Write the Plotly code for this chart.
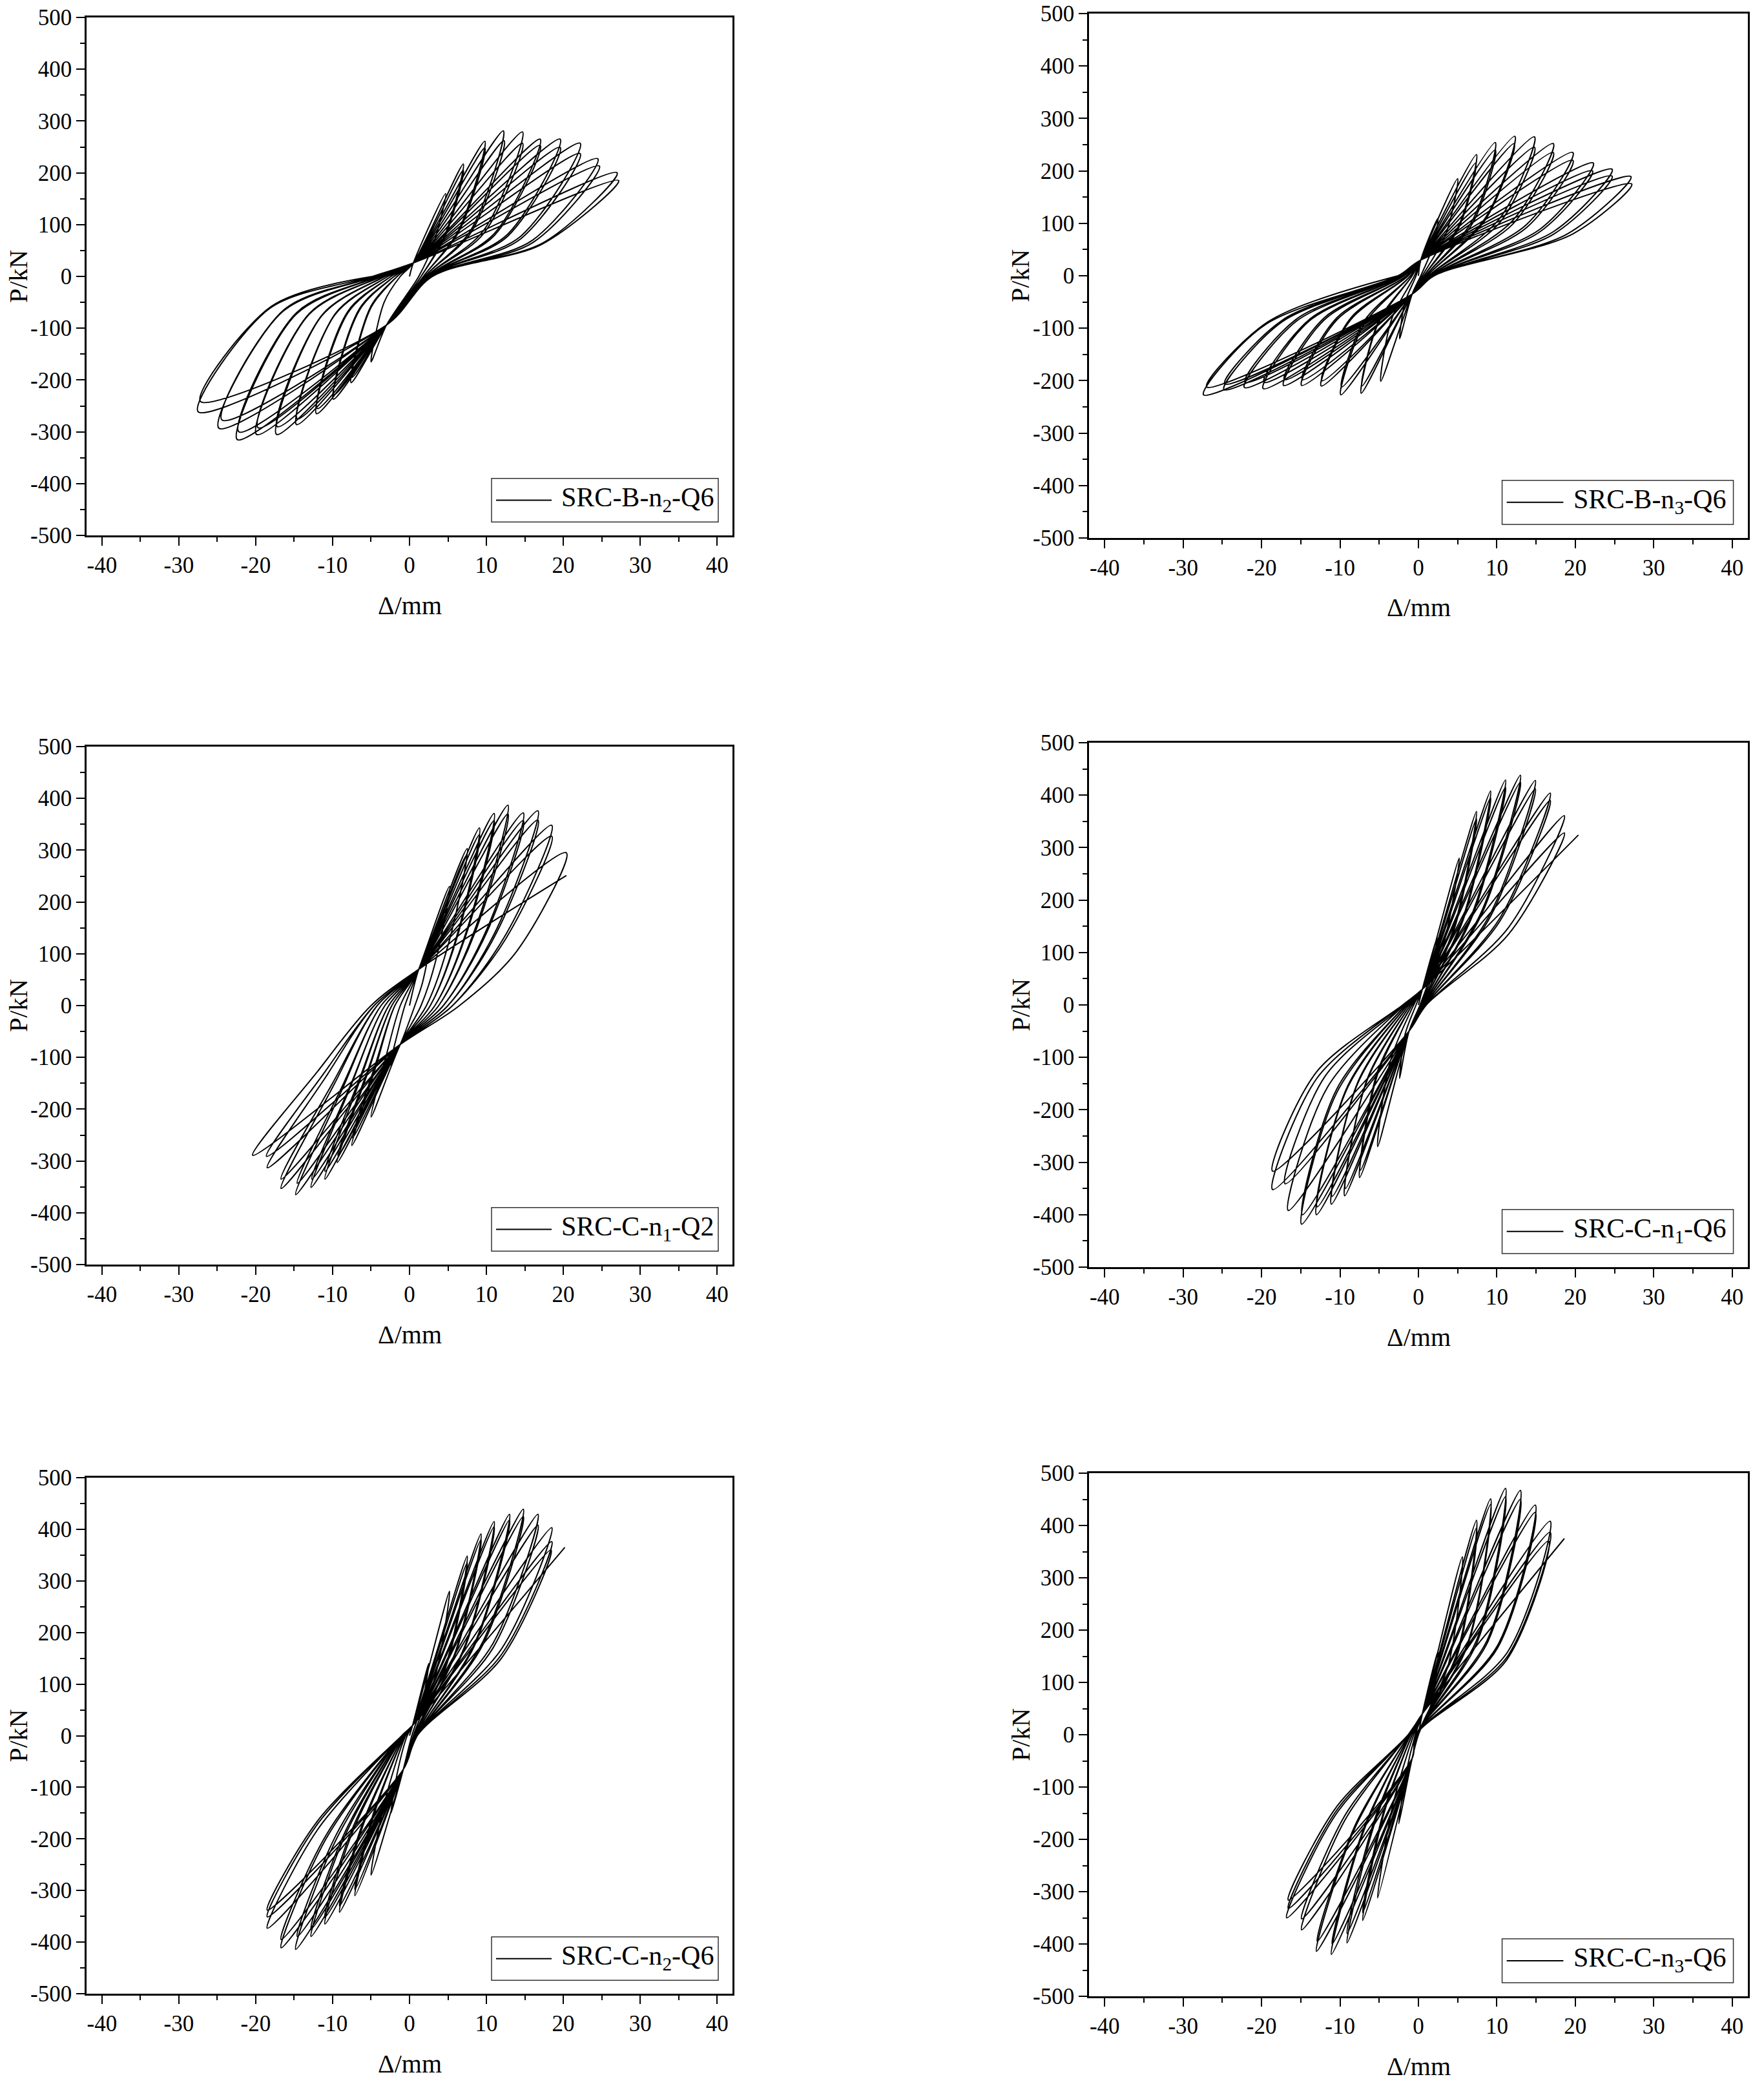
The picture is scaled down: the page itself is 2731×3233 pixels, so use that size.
import plotly.graph_objects as go

W, H = 2731, 3233

# ---- SRC-B-n2-Q6 : per cycle peak / unloading mid point / zero-load crossing ----
BN2_UP_D = [4.7, 7.0, 7.0, 9.8, 9.8, 12.2, 12.3, 14.7, 14.7, 17.0, 17.0, 19.6, 19.6, 22.2, 22.2, 24.5, 24.7, 27.0, 27.2]
BN2_UP_P = [160, 217, 205, 261, 248, 281, 262, 279, 257, 265, 253, 265, 249, 257, 237, 227, 213, 200, 185]
BN2_UM_D = [3.1, 4.6, 4.6, 6.4, 6.4, 8.0, 8.0, 9.6, 9.6, 11.1, 11.1, 12.8, 12.8, 14.5, 14.5, 16.0, 16.1, 17.5, 17.2]
BN2_UM_P = [62, 80, 76, 90, 86, 90, 85, 88, 82, 84, 80, 82, 78, 78, 73, 70, 66, 66, 62]
BN2_UZ = [1.2, 1.5, 1.5, 1.8, 1.8, 2.0, 2.0, 2.2, 2.2, 2.4, 2.4, 2.5, 2.5, 2.6, 2.6, 2.8, 2.8, 3.0, 3.0]
BN2_DN_D = [-5.0, -7.6, -7.5, -9.9, -9.8, -12.1, -12.0, -14.7, -14.6, -17.3, -17.2, -19.9, -19.7, -22.4, -22.2, -24.8, -24.4, -27.5, -27.2]
BN2_DN_P = [-165, -205, -195, -237, -228, -265, -255, -286, -275, -305, -290, -305, -292, -315, -300, -293, -277, -261, -241]
BN2_DM_D = [-3.3, -5.0, -5.0, -6.5, -6.5, -8.0, -8.0, -9.7, -9.6, -11.4, -11.3, -13.1, -13.0, -14.8, -14.7, -16.5, -16.3, -18.2, -18.0]
BN2_DM_P = [-50, -60, -57, -65, -62, -70, -67, -74, -71, -76, -73, -74, -71, -74, -70, -68, -64, -62, -58]
BN2_DZ = [-1.2, -1.6, -1.6, -2.0, -2.0, -2.4, -2.4, -2.8, -2.8, -3.2, -3.2, -3.6, -3.6, -4.0, -4.0, -4.4, -4.4, -4.8, -4.8]
BN2_PINCH = [0.5, 26, -3.0, -94]
BN2_END = None

# ---- SRC-B-n3-Q6 ----
BN3_UP_D = [2.5, 5.0, 7.4, 7.3, 9.8, 9.8, 12.3, 12.2, 14.8, 14.8, 17.2, 17.2, 19.7, 19.7, 22.3, 22.2, 24.7, 24.7, 27.1, 27.2]
BN3_UP_P = [110, 185, 231, 215, 254, 240, 266, 252, 265, 245, 252, 235, 235, 220, 215, 200, 203, 190, 189, 175]
BN3_UM_D = [1.7, 3.5, 5.2, 5.1, 6.9, 6.9, 8.6, 8.5, 10.4, 10.4, 12.0, 12.0, 13.8, 13.8, 15.6, 15.5, 17.3, 17.3, 19.0, 19.7]
BN3_UM_P = [50, 80, 98, 90, 106, 100, 112, 106, 110, 102, 105, 98, 98, 92, 90, 84, 85, 80, 80, 80]
BN3_UZ = [0.3, 0.5, 0.7, 0.7, 0.9, 0.9, 1.1, 1.1, 1.3, 1.3, 1.5, 1.5, 1.7, 1.7, 1.8, 1.8, 2.0, 2.0, 2.0, 2.0]
BN3_DN_D = [-2.4, -4.8, -7.3, -7.2, -9.9, -9.8, -12.4, -12.3, -14.9, -14.8, -17.2, -17.1, -19.8, -19.7, -22.2, -22.1, -24.8, -24.7, -27.4, -27.0]
BN3_DN_P = [-120, -201, -224, -210, -227, -212, -210, -200, -209, -198, -209, -198, -215, -203, -213, -203, -217, -206, -227, -212]
BN3_DM_D = [-1.7, -3.4, -5.1, -5.0, -6.9, -6.9, -8.7, -8.6, -10.4, -10.4, -12.0, -12.0, -13.9, -13.8, -15.5, -15.5, -17.4, -17.3, -19.6, -19.2]
BN3_DM_P = [-50, -82, -90, -84, -92, -86, -85, -80, -84, -80, -84, -80, -86, -82, -86, -82, -88, -84, -94, -88]
BN3_DZ = [-0.3, -0.5, -0.8, -0.8, -1.0, -1.0, -1.3, -1.3, -1.5, -1.5, -1.8, -1.8, -2.0, -2.0, -2.2, -2.2, -2.4, -2.4, -2.6, -2.6]
BN3_PINCH = [0.3, 30, -0.8, -35]
BN3_END = None

# ---- SRC-C-n1-Q2 ----
CQ2_UP_D = [2.5, 5.2, 7.5, 7.4, 9.1, 9.1, 11.0, 11.0, 12.8, 12.8, 14.8, 14.8, 16.7, 16.7, 18.5, 18.5, 20.4]
CQ2_UP_P = [110, 230, 303, 290, 343, 330, 371, 357, 387, 370, 372, 357, 376, 358, 348, 327, 295]
CQ2_UM_D = [1.7, 3.5, 5.1, 5.0, 6.2, 6.2, 7.5, 7.5, 8.7, 8.7, 10.1, 10.1, 11.4, 11.4, 12.6, 12.6, 13.9]
CQ2_UM_P = [45, 92, 121, 116, 137, 132, 148, 143, 155, 148, 149, 143, 150, 143, 139, 131, 104]
CQ2_UZ = [0.7, 1.5, 2.2, 2.2, 2.7, 2.7, 3.3, 3.3, 3.8, 3.8, 4.4, 4.4, 5.0, 5.0, 5.6, 5.6, 6.5]
CQ2_DN_D = [-2.5, -5.0, -7.5, -7.4, -9.4, -9.3, -11.0, -11.0, -12.8, -12.7, -14.8, -14.6, -16.7, -16.7, -18.5, -18.6, -20.4]
CQ2_DN_P = [-115, -215, -270, -255, -303, -290, -335, -320, -351, -335, -365, -343, -353, -335, -313, -291, -289]
CQ2_DM_D = [-1.5, -3.0, -4.4, -4.4, -5.5, -5.5, -6.5, -6.5, -7.6, -7.5, -8.7, -8.6, -9.9, -9.9, -10.9, -11.0, -12.0]
CQ2_DM_P = [-50, -95, -119, -112, -133, -128, -147, -141, -154, -147, -160, -151, -155, -147, -138, -128, -128]
CQ2_DZ = [-0.6, -1.2, -1.9, -1.9, -2.3, -2.3, -2.7, -2.7, -3.2, -3.2, -3.7, -3.7, -4.2, -4.2, -4.6, -4.6, -5.0]
CQ2_PINCH = [1.2, 70, -1.2, -75]
CQ2_END = [20.4, 251]

# ---- SRC-C-n1-Q6 ----
CN1_UP_D = [2.4, 5.2, 7.4, 7.4, 9.2, 9.2, 11.1, 11.1, 13.0, 13.0, 14.9, 14.9, 16.8, 16.8, 18.6, 18.6]
CN1_UP_P = [130, 280, 369, 355, 408, 395, 429, 415, 438, 425, 428, 412, 404, 390, 361, 328]
CN1_UM_D = [1.5, 3.2, 4.6, 4.6, 5.7, 5.7, 6.9, 6.9, 8.1, 8.1, 9.2, 9.2, 10.4, 10.4, 11.5, 11.5]
CN1_UM_P = [55, 115, 151, 146, 167, 162, 176, 170, 180, 174, 175, 169, 166, 160, 148, 135]
CN1_UZ = [0.2, 0.3, 0.4, 0.4, 0.5, 0.5, 0.6, 0.6, 0.7, 0.7, 0.8, 0.8, 0.9, 0.9, 1.0, 1.0]
CN1_DN_D = [-2.4, -5.2, -7.5, -7.4, -9.4, -9.3, -11.1, -11.0, -13.0, -12.9, -14.9, -14.8, -16.6, -17.0, -18.6, -18.6]
CN1_DN_P = [-140, -270, -329, -315, -364, -350, -380, -365, -400, -385, -418, -400, -392, -341, -352, -317]
CN1_DM_D = [-1.7, -3.6, -5.2, -5.2, -6.6, -6.5, -7.8, -7.7, -9.1, -9.0, -10.4, -10.4, -11.6, -11.9, -13.0, -13.0]
CN1_DM_P = [-56, -108, -132, -126, -146, -140, -152, -146, -160, -154, -167, -160, -157, -136, -141, -128]
CN1_DZ = [-0.3, -0.6, -0.8, -0.8, -1.0, -1.0, -1.2, -1.2, -1.4, -1.4, -1.6, -1.6, -1.8, -1.8, -2.0, -2.0]
CN1_PINCH = [0.5, 30, -1.2, -50]
CN1_END = [20.4, 324]

# ---- SRC-C-n2-Q6 ----
CN2_UP_D = [2.5, 5.2, 7.5, 7.5, 9.3, 9.3, 11.0, 11.0, 13.0, 13.0, 14.8, 14.8, 16.7, 16.7, 18.5, 18.5, 18.4]
CN2_UP_P = [140, 280, 348, 335, 391, 380, 415, 405, 429, 418, 439, 425, 429, 408, 403, 376, 360]
CN2_UM_D = [1.6, 3.4, 4.9, 4.9, 6.0, 6.0, 7.2, 7.2, 8.5, 8.5, 9.6, 9.6, 10.9, 10.9, 12.0, 12.0, 12.0]
CN2_UM_P = [59, 118, 146, 141, 164, 160, 174, 170, 180, 176, 184, 178, 180, 171, 169, 158, 151]
CN2_UZ = [0.3, 0.5, 0.6, 0.6, 0.7, 0.7, 0.8, 0.8, 0.9, 0.9, 1.0, 1.0, 1.0, 1.0, 1.0, 1.0, 1.0]
CN2_DN_D = [-2.4, -5.0, -7.1, -7.1, -9.1, -9.1, -11.0, -11.0, -12.8, -12.8, -14.8, -14.6, -16.7, -16.7, -18.5, -18.5, -18.5]
CN2_DN_P = [-150, -270, -310, -298, -342, -330, -365, -352, -389, -375, -414, -389, -411, -395, -373, -351, -338]
CN2_DM_D = [-1.6, -3.3, -4.6, -4.6, -5.9, -5.9, -7.2, -7.2, -8.3, -8.3, -9.6, -9.5, -10.9, -10.9, -12.0, -12.0, -12.0]
CN2_DM_P = [-73, -132, -152, -146, -168, -162, -179, -172, -191, -184, -203, -191, -201, -194, -183, -172, -166]
CN2_DZ = [-0.3, -0.5, -0.6, -0.6, -0.7, -0.7, -0.8, -0.8, -0.9, -0.9, -1.0, -1.0, -1.0, -1.0, -1.0, -1.0, -1.0]
CN2_PINCH = [0.4, 20, -0.8, -65]
CN2_END = [20.2, 365]

# ---- SRC-C-n3-Q6 ----
CN3_UP_D = [2.5, 5.6, 7.4, 7.4, 9.2, 9.2, 11.1, 11.1, 13.0, 13.0, 14.9, 14.9, 16.8, 16.8, 16.6]
CN3_UP_P = [160, 340, 410, 395, 451, 440, 471, 455, 467, 450, 439, 425, 408, 387, 370]
CN3_UM_D = [1.7, 3.8, 5.0, 5.0, 6.3, 6.3, 7.5, 7.5, 8.8, 8.8, 10.1, 10.1, 11.4, 11.4, 11.3]
CN3_UM_P = [62, 133, 160, 154, 176, 172, 184, 177, 182, 176, 171, 166, 159, 151, 144]
CN3_UZ = [0.0, -0.1, -0.1, -0.1, -0.2, -0.2, -0.2, -0.2, -0.3, -0.3, -0.3, -0.3, -0.3, -0.3, -0.3]
CN3_DN_D = [-2.5, -5.2, -7.1, -7.1, -9.1, -9.1, -11.1, -11.0, -13.0, -12.9, -14.9, -14.9, -16.8, -16.6, -16.6]
CN3_DN_P = [-170, -312, -355, -340, -398, -380, -420, -400, -414, -395, -373, -352, -350, -332, -316]
CN3_DM_D = [-1.6, -3.3, -4.5, -4.5, -5.7, -5.7, -7.0, -6.9, -8.2, -8.1, -9.4, -9.4, -10.6, -10.5, -10.5]
CN3_DM_P = [-75, -137, -156, -150, -175, -167, -185, -176, -182, -174, -164, -155, -154, -146, -139]
CN3_DZ = [-0.4, -0.6, -0.8, -0.8, -1.0, -1.0, -1.1, -1.1, -1.2, -1.2, -1.3, -1.3, -1.3, -1.3, -1.3]
CN3_PINCH = [0.5, 40, -0.8, -45]
CN3_END = [18.6, 375]

LABELS = ['SRC-B-n<sub>2</sub>-Q6', 'SRC-B-n<sub>3</sub>-Q6', 'SRC-C-n<sub>1</sub>-Q2',
          'SRC-C-n<sub>1</sub>-Q6', 'SRC-C-n<sub>2</sub>-Q6', 'SRC-C-n<sub>3</sub>-Q6']
X_TICKS = [-40, -30, -20, -10, 0, 10, 20, 30, 40]
Y_TICKS = [-500, -400, -300, -200, -100, 0, 100, 200, 300, 400, 500]

# plot frames in page pixels: left, right, top, bottom
BOXES = [(134, 1134, 27, 829), (1686, 2706, 21, 833),
         (134, 1134, 1156, 1958), (1686, 2706, 1150, 1962),
         (134, 1134, 2288, 3087), (1686, 2706, 2281, 3091)]

FONT = 'Liberation Serif, Times New Roman, serif'


def hysteresis(up_d, up_p, um_d, um_p, uz, dn_d, dn_p, dm_d, dm_p, dz, pinch, end):
    # walk the cycles in test order: push, unload, pull, unload
    xs, ys = [0.0], [0.0]
    for i in range(len(up_d)):
        xs += [pinch[0], up_d[i], um_d[i], uz[i], pinch[2], dn_d[i], dm_d[i], dz[i]]
        ys += [pinch[1], up_p[i], um_p[i], 0.0, pinch[3], dn_p[i], dm_p[i], 0.0]
    if end:
        xs += [pinch[0], end[0]]
        ys += [pinch[1], end[1]]
    return xs, ys


def fx(px):
    return px / W


def fy(py):
    return 1 - py / H


paths = [
    hysteresis(BN2_UP_D, BN2_UP_P, BN2_UM_D, BN2_UM_P, BN2_UZ, BN2_DN_D, BN2_DN_P, BN2_DM_D, BN2_DM_P, BN2_DZ, BN2_PINCH, BN2_END),
    hysteresis(BN3_UP_D, BN3_UP_P, BN3_UM_D, BN3_UM_P, BN3_UZ, BN3_DN_D, BN3_DN_P, BN3_DM_D, BN3_DM_P, BN3_DZ, BN3_PINCH, BN3_END),
    hysteresis(CQ2_UP_D, CQ2_UP_P, CQ2_UM_D, CQ2_UM_P, CQ2_UZ, CQ2_DN_D, CQ2_DN_P, CQ2_DM_D, CQ2_DM_P, CQ2_DZ, CQ2_PINCH, CQ2_END),
    hysteresis(CN1_UP_D, CN1_UP_P, CN1_UM_D, CN1_UM_P, CN1_UZ, CN1_DN_D, CN1_DN_P, CN1_DM_D, CN1_DM_P, CN1_DZ, CN1_PINCH, CN1_END),
    hysteresis(CN2_UP_D, CN2_UP_P, CN2_UM_D, CN2_UM_P, CN2_UZ, CN2_DN_D, CN2_DN_P, CN2_DM_D, CN2_DM_P, CN2_DZ, CN2_PINCH, CN2_END),
    hysteresis(CN3_UP_D, CN3_UP_P, CN3_UM_D, CN3_UM_P, CN3_UZ, CN3_DN_D, CN3_DN_P, CN3_DM_D, CN3_DM_P, CN3_DZ, CN3_PINCH, CN3_END),
]

fig = go.Figure()
layout = dict(width=W, height=H, margin=dict(l=0, r=0, t=0, b=0, autoexpand=False),
              plot_bgcolor='white', paper_bgcolor='white', showlegend=False)
shapes, annotations = [], []

for i, ((xs, ys), label, box) in enumerate(zip(paths, LABELS, BOXES), start=1):
    sfx = '' if i == 1 else str(i)
    xa, ya = 'x' + sfx, 'y' + sfx
    fig.add_trace(go.Scatter(
        x=xs, y=ys, mode='lines', xaxis=xa, yaxis=ya, hoverinfo='skip',
        line=dict(color='black', width=2, shape='spline', smoothing=0.9),
    ))
    left, right, top, bottom = box
    common = dict(
        showline=True, linecolor='black', linewidth=2.5, mirror=True, automargin=False,
        showgrid=False, zeroline=False, ticks='outside', ticklen=13, tickwidth=2,
        tickcolor='black', tickfont=dict(family=FONT, size=35, color='black'),
        tickmode='array',
    )
    layout['xaxis' + sfx] = dict(
        common, domain=[fx(left), fx(right)], anchor=ya, range=[-42, 42],
        tickvals=X_TICKS, ticktext=[str(v) for v in X_TICKS],
        minor=dict(tickmode='linear', tick0=0, dtick=5, ticks='outside',
                   ticklen=7, tickwidth=2, tickcolor='black'),
    )
    layout['yaxis' + sfx] = dict(
        common, domain=[fy(bottom), fy(top)], anchor=xa, range=[-500, 500],
        tickvals=Y_TICKS, ticktext=[str(v) for v in Y_TICKS],
        minor=dict(tickmode='linear', tick0=0, dtick=50, ticks='outside',
                   ticklen=7, tickwidth=2, tickcolor='black'),
    )
    # axis titles
    annotations.append(dict(
        text='Δ/mm', xref='paper', yref='paper', showarrow=False,
        x=fx((left + right) / 2), y=fy(bottom + 108),
        xanchor='center', yanchor='middle', font=dict(family=FONT, size=40, color='black'),
    ))
    annotations.append(dict(
        text='P/kN', xref='paper', yref='paper', showarrow=False, textangle=-90,
        x=fx(left - 106), y=fy((top + bottom) / 2),
        xanchor='center', yanchor='middle', font=dict(family=FONT, size=40, color='black'),
    ))
    # legend box
    shapes.append(dict(type='rect', xref=xa + ' domain', yref=ya + ' domain',
                       x0=0.627, x1=0.978, y0=0.026, y1=0.11,
                       line=dict(color='#333333', width=1.5), fillcolor='white'))
    shapes.append(dict(type='line', xref=xa + ' domain', yref=ya + ' domain',
                       x0=0.634, x1=0.72, y0=0.068, y1=0.068,
                       line=dict(color='black', width=2)))
    annotations.append(dict(
        text=label, xref=xa + ' domain', yref=ya + ' domain', showarrow=False,
        x=0.733, y=0.07, xanchor='left', yanchor='middle',
        font=dict(family=FONT, size=42, color='black'),
    ))

layout['shapes'] = shapes
layout['annotations'] = annotations
fig.update_layout(**layout)

# drop the default page margin so the figure sits at the window's top-left corner
fig.write_html("out.html", config={'displayModeBar': False},
               post_script="document.body.style.margin = '0px';")
